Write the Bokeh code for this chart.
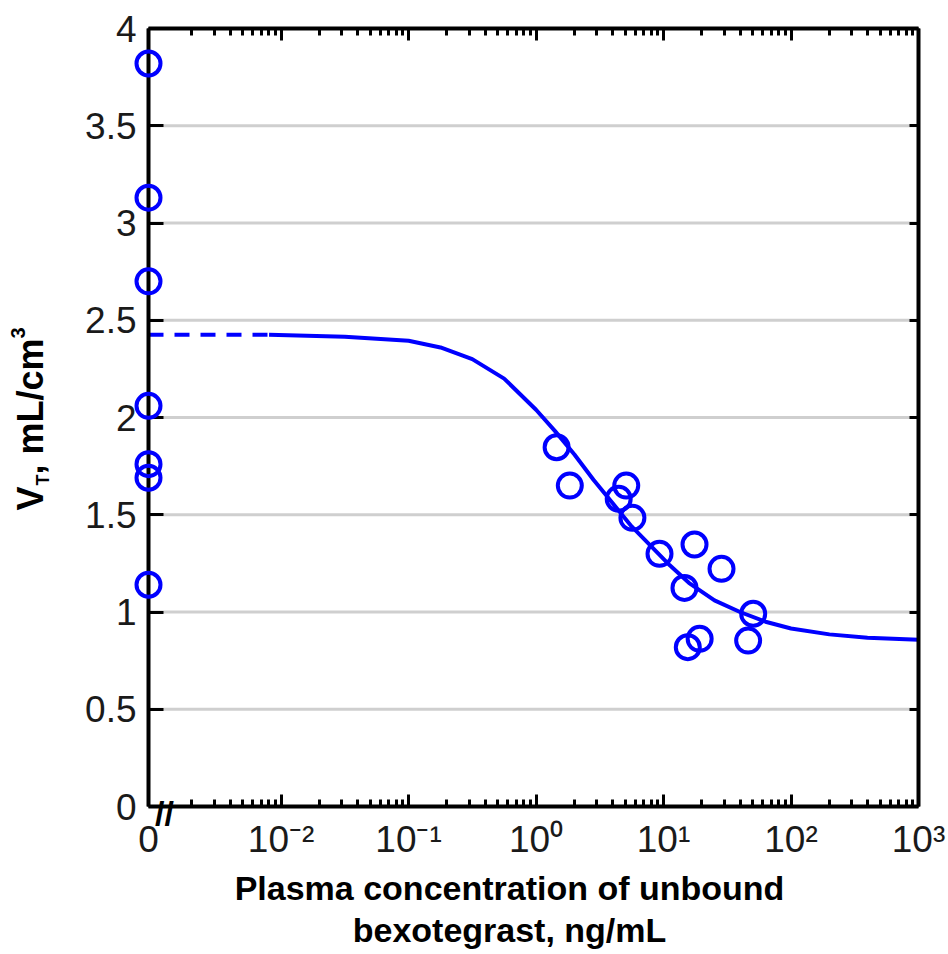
import math
from bokeh.plotting import figure
from bokeh.models import FixedTicker, LinearAxis, LogAxis, Range1d
from bokeh.core.properties import value
from bokeh.embed import file_html
from bokeh.resources import INLINE

# ---------------- data ----------------
# observed V_T at baseline (zero concentration)
conc_zero = [0, 0, 0, 0, 0, 0, 0]
vt_zero = [3.82, 3.13, 2.70, 2.06, 1.76, 1.69, 1.14]

# observed V_T vs unbound plasma concentration (ng/mL)
conc_obs = [1.45, 1.84, 5.1, 4.45, 5.7, 9.3, 17.5, 28.5, 14.6, 50.5, 19.2, 15.5, 46.1]
vt_obs = [1.847, 1.650, 1.650, 1.582, 1.484, 1.299, 1.347, 1.222, 1.124, 0.991, 0.862, 0.819, 0.853]

# fitted curve
curve_conc = [0.00805, 0.0316, 0.1, 0.178, 0.316, 0.562, 1.0, 1.41, 2.0, 2.82, 3.98,
              5.62, 7.94, 11.2, 15.8, 25.1, 39.8, 63.1, 100, 200, 398, 1000]
curve_vt = [2.425, 2.415, 2.395, 2.36, 2.30, 2.20, 2.04, 1.93, 1.81, 1.68, 1.56,
            1.44, 1.34, 1.24, 1.15, 1.06, 1.00, 0.95, 0.915, 0.885, 0.868, 0.857]
# dashed extension to zero concentration
dash_conc = [0, 0.00805]
dash_vt = [2.425, 2.425]

x_major = [0.01, 0.1, 1, 10, 100, 1000]
x_major_labels = ["10⁻²", "10⁻¹", "10⁰", "10¹", "10²", "10³"]
y_major = [0, 0.5, 1, 1.5, 2, 2.5, 3, 3.5, 4]
y_major_labels = ["0", "0.5", "1", "1.5", "2", "2.5", "3", "3.5", "4"]

# ---------------- layout ----------------
X_ZERO = 10 ** -3.04   # where "0" sits on the broken log axis
X_END = 1000
FONT = "Liberation Sans"
BLUE = "#0000ff"
INK = "#1a1a1a"

def place(c):
    return [X_ZERO if v == 0 else v for v in c]

p = figure(width=948, height=954, x_axis_type="log",
           x_range=Range1d(X_ZERO, X_END), y_range=Range1d(0, 4),
           output_backend="svg", toolbar_location=None,
           x_axis_location=None, y_axis_location=None,
           min_border_left=148, min_border_right=30, min_border_top=28, min_border_bottom=148)
p.outline_line_color = None
p.background_fill_color = "white"
p.border_fill_color = "white"
p.center = []  # drop default grids

minor = [k * 10 ** d for d in range(-4, 3) for k in range(2, 10) if X_ZERO < k * 10 ** d < X_END]
xt = FixedTicker(ticks=[X_ZERO] + x_major, minor_ticks=minor)
yt = FixedTicker(ticks=y_major, minor_ticks=[])

def style(ax, labels=True, major_in=12, minor_in=7):
    ax.axis_line_width = 4
    ax.axis_line_color = "black"
    ax.major_tick_in = major_in
    ax.major_tick_out = 0
    ax.minor_tick_in = minor_in
    ax.minor_tick_out = 0
    ax.major_tick_line_width = 3
    ax.minor_tick_line_width = 3
    ax.major_tick_line_color = "black"
    ax.minor_tick_line_color = "black"
    ax.major_label_text_font = FONT
    ax.major_label_text_color = INK
    if labels:
        ax.major_label_text_font_size = "37px"
    else:
        ax.major_label_text_font_size = "1px"
        ax.major_label_text_alpha = 0
        ax.major_label_standoff = 0

bottom = LogAxis(ticker=xt)
style(bottom)
overrides = {X_ZERO: "0"}
for v, s in zip(x_major, x_major_labels):
    overrides[v] = s
bottom.major_label_overrides = overrides
bottom.major_label_standoff = 12
p.add_layout(bottom, "below")

top = LogAxis(ticker=xt)
style(top, labels=False)
p.add_layout(top, "above")

left = LinearAxis(ticker=yt)
style(left, major_in=15)
left.major_label_overrides = dict(zip(y_major, y_major_labels))
left.major_label_standoff = 12
p.add_layout(left, "left")

right = LinearAxis(ticker=yt)
style(right, labels=False, major_in=9)
p.add_layout(right, "right")

# horizontal grid lines
for yv in y_major[1:-1]:
    p.line(x=[X_ZERO, X_END], y=[yv, yv], line_color="#cfcfcf", line_width=3, level="underlay")

# curve
p.line(x=place(dash_conc), y=dash_vt, line_color=BLUE, line_width=4, line_dash="15 11")
p.line(x=curve_conc, y=curve_vt, line_color=BLUE, line_width=4, line_join="round")

# points
r1 = p.scatter(x=place(conc_zero), y=vt_zero, marker="circle", size=24,
               fill_color=None, line_color=BLUE, line_width=4)
r2 = p.scatter(x=conc_obs, y=vt_obs, marker="circle", size=24,
               fill_color=None, line_color=BLUE, line_width=4)
r1.level = "overlay"
r2.level = "overlay"

def txt(s, dx, dy, size, angle=0.0, align="left", baseline="alphabetic", bold=True):
    r = p.text(x=[X_ZERO], y=[0], text=[s], x_offset=dx, y_offset=dy, angle=angle,
               text_font=value(FONT), text_font_size=value(size),
               text_font_style="bold" if bold else "normal",
               text_align=align, text_baseline=baseline, text_color="black")
    r.level = "overlay"
    return r

# axis break marker
txt("//", 16, 6, "34px", align="center", baseline="middle")

# x-axis title (two lines)
txt("Plasma concentration of unbound", 361, 81, "34px", align="center")
txt("bexotegrast, ng/mL", 361, 123, "34px", align="center")

# y-axis title: V_T, mL/cm^3 (rotated)
ang = math.pi / 2
txt("V", -118, -296, "36px", angle=ang)
txt("T", -106, -321, "18px", angle=ang)
txt(", mL/cm", -118, -332, "36px", angle=ang)
txt("3", -131, -468, "20px", angle=ang)

open("out.html", "w").write(file_html(p, INLINE))
